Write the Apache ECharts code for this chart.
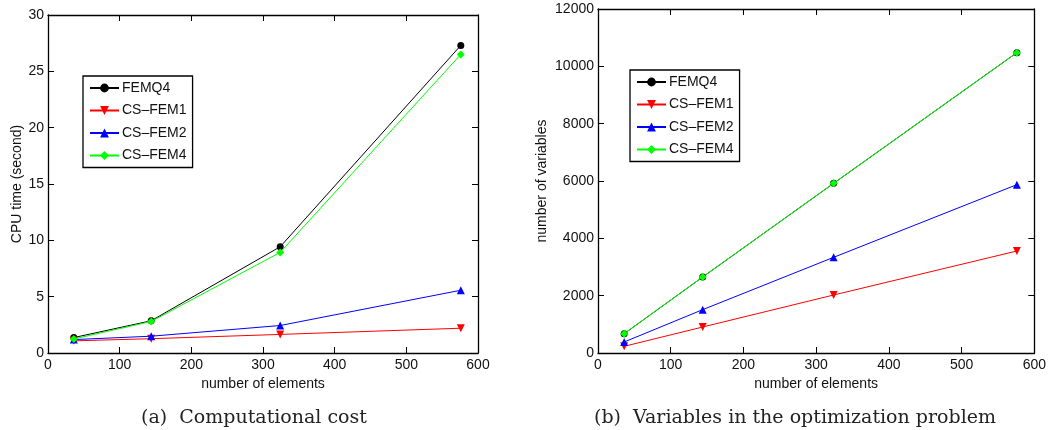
<!DOCTYPE html>
<html>
<head>
<meta charset="utf-8">
<script src="https://cdn.jsdelivr.net/npm/echarts@6/dist/echarts.min.js"></script>
<style>
  html, body { margin: 0; padding: 0; background: #fff; }
  #chart { width: 1049px; height: 430px; }
</style>
</head>
<body>
<div id="chart"></div>
<script>
// number of elements (x) shared by both panels
var elements = [36, 144, 324, 576];
var seriesNames = ['FEMQ4', 'CS–FEM1', 'CS–FEM2', 'CS–FEM4'];

// (a) CPU time (second)
var cpuFEMQ4 = [1.37, 2.86, 9.43, 27.3];
var cpuCS1 = [1.08, 1.27, 1.65, 2.2];
var cpuCS2 = [1.19, 1.49, 2.44, 5.57];
var cpuCS4 = [1.25, 2.8, 8.93, 26.5];

// (b) number of variables
var varFEMQ4 = [674, 2651, 5919, 10477];
var varCS1 = [233, 907, 2023, 3558];
var varCS2 = [384, 1512, 3337, 5872];
var varCS4 = [674, 2651, 5919, 10477];

var colors = ['#000000', '#ff0000', '#0000ff', '#00ff00'];
var symbols = ['circle', 'triangle', 'triangle', 'diamond'];
var rotates = [0, 180, 0, 0];
var sizes = [7, 8, 8, 8];

var FONT = '"Liberation Sans", Arial, sans-serif';

function pairs(ys) {
    return elements.map(function (x, i) { return [x, ys[i]]; });
}

function makeSeries(data, gi) {
    return data.map(function (ys, k) {
        return {
            name: seriesNames[k],
            type: 'line',
            xAxisIndex: gi * 2,
            yAxisIndex: gi * 2,
            data: pairs(ys),
            symbol: symbols[k],
            symbolRotate: rotates[k],
            symbolSize: sizes[k],
            showAllSymbol: true,
            animation: false,
            lineStyle: { color: colors[k], width: 1 },
            itemStyle: { color: colors[k] },
            z: 2 + k
        };
    });
}

var tickStyle = { show: true, inside: true, length: 6, lineStyle: { color: '#000', width: 1 } };
var lineStyleAxis = { show: true, onZero: false, lineStyle: { color: '#000', width: 1.3 } };
function plain(v) { return String(v); }

function mainX(gi, name) {
    return {
        type: 'value', gridIndex: gi, min: 0, max: 600, interval: 100,
        name: name, nameLocation: 'middle', nameGap: 21,
        nameTextStyle: { fontFamily: FONT, fontSize: 14, color: '#111' },
        axisLine: lineStyleAxis,
        axisTick: tickStyle,
        axisLabel: { fontFamily: FONT, fontSize: 14, color: '#111', margin: 5, formatter: plain },
        splitLine: { show: false }
    };
}
function mirrorX(gi) {
    return {
        type: 'value', gridIndex: gi, position: 'top', min: 0, max: 600, interval: 100,
        axisLine: lineStyleAxis,
        axisTick: tickStyle,
        axisLabel: { show: false }, splitLine: { show: false }
    };
}
function mainY(gi, max, interval, name, gap) {
    return {
        type: 'value', gridIndex: gi, min: 0, max: max, interval: interval,
        name: name, nameLocation: 'middle', nameGap: gap,
        nameTextStyle: { fontFamily: FONT, fontSize: 14, color: '#111' },
        axisLine: lineStyleAxis,
        axisTick: tickStyle,
        axisLabel: { fontFamily: FONT, fontSize: 14, color: '#111', margin: 4, formatter: plain },
        splitLine: { show: false }
    };
}
function mirrorY(gi, max, interval) {
    return {
        type: 'value', gridIndex: gi, position: 'right', min: 0, max: max, interval: interval,
        axisLine: lineStyleAxis,
        axisTick: tickStyle,
        axisLabel: { show: false }, splitLine: { show: false }
    };
}

function makeLegend(left, top) {
    return {
        data: seriesNames,
        left: left, top: top,
        orient: 'vertical',
        itemWidth: 29, itemHeight: 11, itemGap: 8.5,
        padding: [5, 6, 5, 6],
        borderColor: '#000', borderWidth: 1.3,
        backgroundColor: '#fff',
        textStyle: { fontFamily: FONT, fontSize: 14, color: '#111', padding: [0, 0, 0, -2] },
        selectedMode: false
    };
}

var chart = echarts.init(document.getElementById('chart'), null, { renderer: 'canvas' });

var option = {
    backgroundColor: '#fff',
    animation: false,
    grid: [
        { left: 48, top: 15, width: 430, height: 338 },
        { left: 598, top: 9, width: 437, height: 344 }
    ],
    xAxis: [mainX(0, 'number of elements'), mirrorX(0), mainX(1, 'number of elements'), mirrorX(1)],
    yAxis: [
        mainY(0, 30, 5, 'CPU time (second)', 24), mirrorY(0, 30, 5),
        mainY(1, 12000, 2000, 'number of variables', 49), mirrorY(1, 12000, 2000)
    ],
    legend: [makeLegend(83, 76), makeLegend(630, 70)],
    title: [
        { text: '(a)  Computational cost', left: 249, top: 404, textAlign: 'center',
          textStyle: { fontFamily: '"DejaVu Serif", serif', fontWeight: 'normal', fontSize: 19, color: '#222' } },
        { text: '(b)  Variables in the optimization problem', left: 790, top: 404, textAlign: 'center',
          textStyle: { fontFamily: '"DejaVu Serif", serif', fontWeight: 'normal', fontSize: 19, color: '#222' } }
    ],
    series: makeSeries([cpuFEMQ4, cpuCS1, cpuCS2, cpuCS4], 0)
        .concat(makeSeries([varFEMQ4, varCS1, varCS2, varCS4], 1))
};

chart.setOption(option);
</script>
</body>
</html>
